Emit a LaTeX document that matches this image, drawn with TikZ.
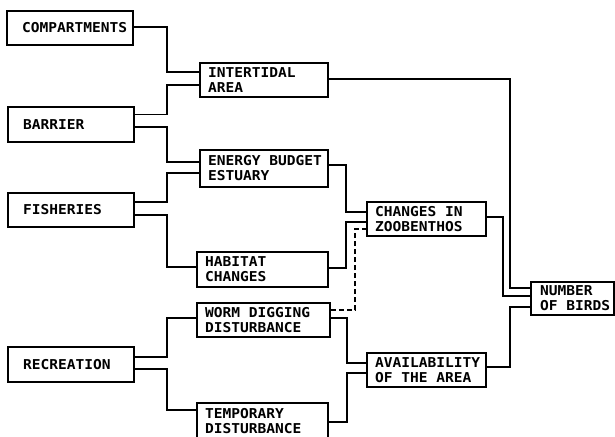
\documentclass[tikz,border=0pt]{standalone}
\usepackage{fontspec}
\setmonofont[FakeStretch=1.07]{DejaVu Sans Mono}
\newcommand\tsp{\hbox to \fontcharwd\font`\M{}}
\begin{document}
\begin{tikzpicture}[x=1pt,y=-1pt,
  box/.style={draw, line width=1.6pt, inner xsep=0pt, inner ysep=0pt,
    align=left, anchor=center,
    font=\ttfamily\bfseries\fontsize{13.6}{15}\selectfont,
    execute at begin node={\leftskip=#1\relax}},
  wire/.style={line width=1.6pt},
  dwire/.style={line width=1.5pt, dash pattern=on 5pt off 3pt}]
\useasboundingbox (0,0) rectangle (615,436);
\clip (0,0) rectangle (615,436);
% left column
\node[box=15pt, text width=126pt, minimum width=126pt, minimum height=34pt] (comp) at (70,28) {COMPARTMENTS};
\node[box=15pt, text width=126pt, minimum width=126pt, minimum height=35pt] (barr) at (71,124.5) {BARRIER};
\node[box=15pt, text width=126pt, minimum width=126pt, minimum height=34pt] (fish) at (71,210) {FISHERIES};
\node[box=15pt, text width=126pt, minimum width=126pt, minimum height=35pt] (recr) at (71,364.5) {RECREATION};
% second column
\node[box=8pt, text width=128pt, minimum width=128pt, minimum height=34pt] (inter) at (264,80) {INTERTIDAL\\AREA};
\node[box=8pt, text width=128pt, minimum width=128pt, minimum height=37pt] (energy) at (264,168.5) {ENERGY\tsp BUDGET\\ESTUARY};
\node[box=8pt, text width=131pt, minimum width=131pt, minimum height=35pt] (habit) at (262.5,269.5) {HABITAT\\CHANGES};
\node[box=8pt, text width=133pt, minimum width=133pt, minimum height=34pt] (worm) at (263.5,320) {WORM\tsp DIGGING\\DISTURBANCE};
\node[box=8pt, text width=131pt, minimum width=131pt, minimum height=37pt] (temp) at (262.5,421.5) {TEMPORARY\\DISTURBANCE};
% third column
\node[box=8pt, text width=119pt, minimum width=119pt, minimum height=34pt] (zoo) at (426.5,219) {CHANGES\tsp IN\\ZOOBENTHOS};
\node[box=8pt, text width=119pt, minimum width=119pt, minimum height=34pt] (avail) at (426.5,370) {AVAILABILITY\\OF\tsp THE\tsp AREA};
% final
\node[box=9pt, text width=83pt, minimum width=83pt, minimum height=33pt] (birds) at (572.5,298.5) {NUMBER\\OF\tsp BIRDS};
% vertical positions of the connectors
\coordinate (v1) at (167,0);
\coordinate (v2) at (346,0);
\coordinate (v3) at (355,0);
\coordinate (v4) at (347,0);
\coordinate (v5) at (510,0);
\coordinate (v6) at (503,0);
\coordinate (v7) at (510,0);
% connectors
\draw[wire] ([yshift=1pt]comp.east) -- ([yshift=1pt]comp.east -| v1) |- ([yshift=8pt]inter.west);
\draw[wire] ([yshift=10pt]barr.east) -- ([yshift=10pt]barr.east -| v1) |- ([yshift=-5pt]inter.west);
\draw[wire] ([yshift=-2.5pt]barr.east) -- ([yshift=-2.5pt]barr.east -| v1) |- ([yshift=6.5pt]energy.west);
\draw[wire] ([yshift=8pt]fish.east) -- ([yshift=8pt]fish.east -| v1) |- ([yshift=-4.5pt]energy.west);
\draw[wire] ([yshift=-5pt]fish.east) -- ([yshift=-5pt]fish.east -| v1) |- ([yshift=2.5pt]habit.west);
\draw[wire] ([yshift=7.5pt]recr.east) -- ([yshift=7.5pt]recr.east -| v1) |- ([yshift=2pt]worm.west);
\draw[wire] ([yshift=-4.5pt]recr.east) -- ([yshift=-4.5pt]recr.east -| v1) |- ([yshift=11.5pt]temp.west);
\draw[wire] ([yshift=3.5pt]energy.east) -- ([yshift=3.5pt]energy.east -| v2) |- ([yshift=7pt]zoo.west);
\draw[wire] ([yshift=1.5pt]habit.east) -- ([yshift=1.5pt]habit.east -| v2) |- ([yshift=-3pt]zoo.west);
\draw[dwire] ([yshift=10pt]worm.east) -- ([yshift=10pt]worm.east -| v3) |- ([yshift=-10pt]zoo.west);
\draw[wire] ([yshift=2pt]worm.east) -- ([yshift=2pt]worm.east -| v4) |- ([yshift=7pt]avail.west);
\draw[wire] ([yshift=-0.5pt]temp.east) -- ([yshift=-0.5pt]temp.east -| v4) |- ([yshift=-3pt]avail.west);
\draw[wire] ([yshift=1pt]inter.east) -- ([yshift=1pt]inter.east -| v5) |- ([yshift=10.5pt]birds.west);
\draw[wire] ([yshift=2pt]zoo.east) -- ([yshift=2pt]zoo.east -| v6) |- ([yshift=2.5pt]birds.west);
\draw[wire] ([yshift=3pt]avail.east) -- ([yshift=3pt]avail.east -| v7) |- ([yshift=-8.5pt]birds.west);
\end{tikzpicture}
\end{document}
